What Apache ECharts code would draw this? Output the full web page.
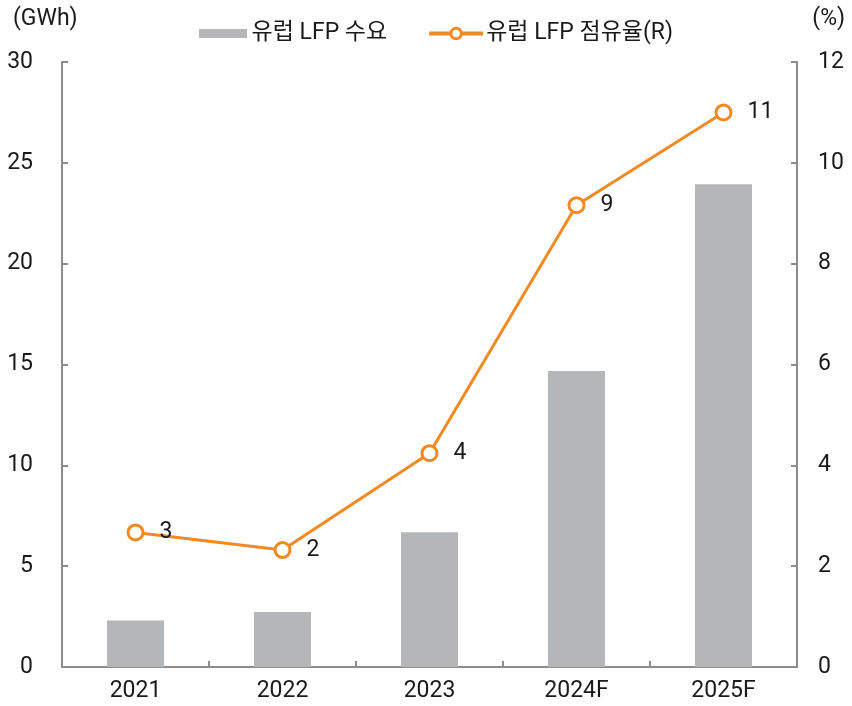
<!DOCTYPE html>
<html>
<head>
<meta charset="utf-8">
<script src="https://cdn.jsdelivr.net/npm/echarts@6/dist/echarts.min.js"></script>
<style>
  html, body { margin: 0; padding: 0; background: #fff; }
  #chart { width: 852px; height: 706px; }
</style>
</head>
<body>
<div id="chart"></div>
<script>
// 카테고리 및 데이터
const years = ['2021', '2022', '2023', '2024F', '2025F']
const demandGWh = [2.3, 2.73, 6.68, 14.68, 23.94]   // 유럽 LFP 수요 (좌축)
const sharePct = [2.67, 2.32, 4.24, 9.16, 11.0]     // 유럽 LFP 점유율 (우축)
const leftTicks = { min: 0, max: 30, interval: 5 }
const rightTicks = { min: 0, max: 12, interval: 2 }

// 라틴 문자는 Roboto, 한글은 Noto Sans CJK KR 로 대체
const FONT = "Roboto, 'Noto Sans CJK KR', sans-serif"
const TEXT = '#1a1a1a'
const AXIS_GRAY = '#8c8c8c'
const BAR_GRAY = '#b5b6b8'
const ORANGE = '#f28a22'

const chart = echarts.init(document.getElementById('chart'), null, { renderer: 'canvas' })

const axisCommon = {
  axisLine: { show: true, lineStyle: { color: AXIS_GRAY, width: 2 } },
  axisTick: { show: true, inside: true, length: 6, lineStyle: { color: AXIS_GRAY, width: 2 } },
  splitLine: { show: false },
  axisLabel: { color: TEXT, fontSize: 23, fontFamily: FONT }
}

const titleText = { fontSize: 23, fontWeight: 'normal', color: TEXT, fontFamily: FONT }

chart.setOption({
  animation: false,
  textStyle: { fontFamily: FONT },
  title: [
    { text: '(GWh)', left: 8, top: 3, textStyle: titleText },
    { text: '(%)', right: 2, top: 3, textStyle: titleText }
  ],
  legend: {
    top: 17,
    left: 191,
    itemWidth: 54,
    itemHeight: 13,
    itemGap: 40,
    textStyle: { fontSize: 23, color: TEXT, fontFamily: FONT, padding: [0, 0, 0, -2] },
    data: [
      // 막대 아이콘은 높이 9px 정도로 (바운딩 박스만 13px)
      { name: '유럽 LFP 수요', icon: 'path://M0,0M0,13M3,2h48v9h-48z', itemStyle: { color: BAR_GRAY } },
      {
        name: '유럽 LFP 점유율(R)',
        lineStyle: { color: ORANGE, width: 4 },
        itemStyle: { color: '#fff', borderColor: ORANGE, borderWidth: 3 }
      }
    ]
  },
  grid: { left: 62, right: 55, top: 62, bottom: 39, containLabel: false },
  xAxis: {
    type: 'category',
    data: years,
    ...axisCommon,
    axisLabel: { ...axisCommon.axisLabel, margin: 13 }
  },
  yAxis: [
    {
      type: 'value',
      ...leftTicks,
      ...axisCommon,
      axisLabel: { ...axisCommon.axisLabel, margin: 29 }
    },
    {
      type: 'value',
      position: 'right',
      ...rightTicks,
      ...axisCommon,
      axisLabel: { ...axisCommon.axisLabel, margin: 21 }
    }
  ],
  series: [
    {
      name: '유럽 LFP 수요',
      type: 'bar',
      yAxisIndex: 0,
      barWidth: 57,
      itemStyle: { color: BAR_GRAY },
      data: demandGWh
    },
    {
      name: '유럽 LFP 점유율(R)',
      type: 'line',
      yAxisIndex: 1,
      symbol: 'circle',
      symbolSize: 15,
      lineStyle: { color: ORANGE, width: 3 },
      itemStyle: { color: '#fff', borderColor: ORANGE, borderWidth: 3 },
      label: {
        show: true,
        position: 'right',
        distance: 15,
        fontSize: 23,
        color: TEXT,
        fontFamily: FONT,
        formatter: p => Math.round(p.value)
      },
      data: sharePct
    }
  ]
})
</script>
</body>
</html>
